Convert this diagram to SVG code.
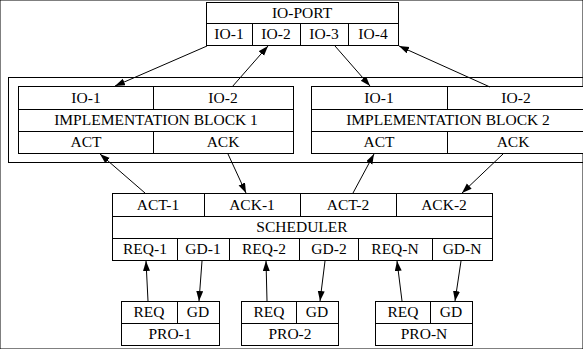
<svg xmlns="http://www.w3.org/2000/svg" width="583" height="349" viewBox="0 0 583 349">
<style>
rect, line.d { fill: none; stroke: #000; stroke-width: 1; }
rect { fill: #fff; }
rect.cl { fill: none; }
text { font-family: "Liberation Serif", "Times New Roman", serif; font-size: 15.5px; text-anchor: middle; fill: #000; }
.e line { stroke: #000; stroke-width: 1; marker-end: url(#ah); }
</style>
<defs>
<marker id="ah" markerUnits="userSpaceOnUse" markerWidth="11" markerHeight="8" refX="10" refY="3.5" orient="auto">
<path d="M0,0 L10,3.5 L0,7 Z" fill="#000"/>
</marker>
</defs>
<rect width="583" height="349" fill="#fff" stroke="none"/>

<g id="cluster">
<rect class="cl" x="8.5" y="77.5" width="590" height="85"/>
</g>

<g id="ioport">
<rect x="206.5" y="2.5" width="192" height="43"/>
<line class="d" x1="206.5" y1="23.5" x2="398.5" y2="23.5"/>
<line class="d" x1="252.5" y1="23.5" x2="252.5" y2="45.5"/>
<line class="d" x1="300.5" y1="23.5" x2="300.5" y2="45.5"/>
<line class="d" x1="348.5" y1="23.5" x2="348.5" y2="45.5"/>
<text x="302" y="18">IO-PORT</text>
<text x="229" y="39">IO-1</text>
<text x="276" y="39">IO-2</text>
<text x="324" y="39">IO-3</text>
<text x="373" y="39">IO-4</text>
</g>

<g id="block1">
<rect x="18.5" y="86.5" width="275" height="67"/>
<line class="d" x1="18.5" y1="109.5" x2="293.5" y2="109.5"/>
<line class="d" x1="18.5" y1="131.5" x2="293.5" y2="131.5"/>
<line class="d" x1="153.5" y1="86.5" x2="153.5" y2="109.5"/>
<line class="d" x1="153.5" y1="131.5" x2="153.5" y2="153.5"/>
<text x="86" y="103">IO-1</text>
<text x="223" y="103">IO-2</text>
<text x="156" y="125">IMPLEMENTATION BLOCK 1</text>
<text x="86" y="147">ACT</text>
<text x="223" y="147">ACK</text>
</g>

<g id="block2">
<rect x="311.5" y="86.5" width="274" height="67"/>
<line class="d" x1="311.5" y1="109.5" x2="585.5" y2="109.5"/>
<line class="d" x1="311.5" y1="131.5" x2="585.5" y2="131.5"/>
<line class="d" x1="447.5" y1="86.5" x2="447.5" y2="109.5"/>
<line class="d" x1="447.5" y1="131.5" x2="447.5" y2="153.5"/>
<text x="379" y="103">IO-1</text>
<text x="516" y="103">IO-2</text>
<text x="448" y="125">IMPLEMENTATION BLOCK 2</text>
<text x="379" y="147">ACT</text>
<text x="513" y="147">ACK</text>
</g>

<g id="scheduler">
<rect x="112.5" y="193.5" width="380" height="67"/>
<line class="d" x1="112.5" y1="216.5" x2="492.5" y2="216.5"/>
<line class="d" x1="112.5" y1="238.5" x2="492.5" y2="238.5"/>
<line class="d" x1="204.5" y1="193.5" x2="204.5" y2="216.5"/>
<line class="d" x1="300.5" y1="193.5" x2="300.5" y2="216.5"/>
<line class="d" x1="396.5" y1="193.5" x2="396.5" y2="216.5"/>
<line class="d" x1="177.5" y1="238.5" x2="177.5" y2="260.5"/>
<line class="d" x1="229.5" y1="238.5" x2="229.5" y2="260.5"/>
<line class="d" x1="299.5" y1="238.5" x2="299.5" y2="260.5"/>
<line class="d" x1="358.5" y1="238.5" x2="358.5" y2="260.5"/>
<line class="d" x1="432.5" y1="238.5" x2="432.5" y2="260.5"/>
<text x="158" y="210">ACT-1</text>
<text x="252" y="210">ACK-1</text>
<text x="348" y="210">ACT-2</text>
<text x="444" y="210">ACK-2</text>
<text x="302" y="232">SCHEDULER</text>
<text x="145" y="254">REQ-1</text>
<text x="203" y="254">GD-1</text>
<text x="264" y="254">REQ-2</text>
<text x="329" y="254">GD-2</text>
<text x="395" y="254">REQ-N</text>
<text x="462" y="254">GD-N</text>
</g>

<g id="pro1">
<rect x="121.5" y="301.5" width="98" height="44"/>
<line class="d" x1="121.5" y1="323.5" x2="219.5" y2="323.5"/>
<line class="d" x1="177.5" y1="301.5" x2="177.5" y2="323.5"/>
<text x="149" y="317">REQ</text>
<text x="198" y="317">GD</text>
<text x="170" y="339">PRO-1</text>
</g>

<g id="pro2">
<rect x="241.5" y="301.5" width="97" height="44"/>
<line class="d" x1="241.5" y1="323.5" x2="338.5" y2="323.5"/>
<line class="d" x1="296.5" y1="301.5" x2="296.5" y2="323.5"/>
<text x="269" y="317">REQ</text>
<text x="317" y="317">GD</text>
<text x="290" y="339">PRO-2</text>
</g>

<g id="pron">
<rect x="375.5" y="301.5" width="97" height="44"/>
<line class="d" x1="375.5" y1="323.5" x2="472.5" y2="323.5"/>
<line class="d" x1="430.5" y1="301.5" x2="430.5" y2="323.5"/>
<text x="403" y="317">REQ</text>
<text x="451" y="317">GD</text>
<text x="424" y="339">PRO-N</text>
</g>

<g id="connectors" class="e">
<line x1="207" y1="46" x2="115" y2="86"/>
<line x1="232" y1="87" x2="268" y2="46"/>
<line x1="335" y1="46" x2="370" y2="86"/>
<line x1="490" y1="87" x2="399" y2="46"/>
<line x1="145" y1="193" x2="100" y2="154"/>
<line x1="228" y1="154" x2="246" y2="193"/>
<line x1="353" y1="193" x2="374" y2="154"/>
<line x1="503" y1="154" x2="462" y2="193"/>
<line x1="148" y1="301" x2="146" y2="261"/>
<line x1="202" y1="261" x2="199" y2="301"/>
<line x1="267" y1="301" x2="266" y2="261"/>
<line x1="325" y1="261" x2="320" y2="301"/>
<line x1="402" y1="301" x2="397" y2="261"/>
<line x1="461" y1="261" x2="455" y2="301"/>
</g>
</svg>
